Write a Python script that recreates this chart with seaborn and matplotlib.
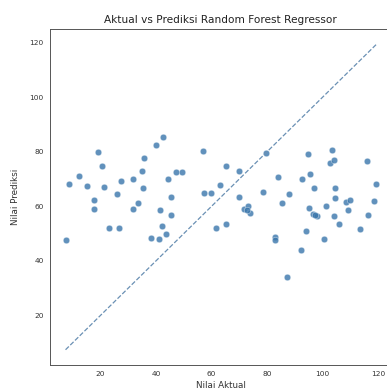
import matplotlib
matplotlib.use("Agg")
import matplotlib.pyplot as plt
import seaborn as sns
import numpy as np
import pandas as pd

sns.set_style("white")
plt.rcParams['font.family'] = ['DejaVu Sans']

nilai_aktual = [7.4, 8.7, 12.3, 15.1, 17.7, 17.5, 19.2, 20.6, 21.4, 23.2,
                26.8, 26.0, 27.3, 31.8, 31.8, 33.4, 35.0, 35.7, 35.5, 39.9,
                42.4, 44.5, 47.3, 49.5, 45.3, 41.3, 45.6, 42.1, 43.7, 38.2,
                41.2, 56.9, 57.4, 59.7, 61.5, 63.0, 65.2, 65.3, 69.8, 70.1,
                71.9, 73.3, 74.0, 72.8, 78.5, 79.5, 83.9, 83.1, 83.0, 85.5,
                87.9, 87.4, 92.4, 92.5, 94.9, 95.4, 94.1, 97.0, 95.3, 96.7,
                97.9, 97.3, 100.7, 101.2, 103.6, 102.8, 104.1, 104.5, 104.4, 104.1,
                106.1, 108.5, 109.8, 109.1, 113.5, 116.0, 116.5, 118.5, 119.5]
nilai_prediksi = [47.6, 68.3, 71.2, 67.5, 62.4, 59.2, 79.8, 74.9, 67.3, 52.1,
                  52.1, 64.4, 69.2, 70.0, 59.2, 61.1, 72.9, 77.8, 66.7, 82.5,
                  85.6, 69.9, 72.7, 72.5, 63.5, 58.5, 56.7, 52.7, 50.0, 48.4,
                  48.2, 80.3, 65.0, 65.0, 52.1, 67.7, 74.8, 53.5, 73.1, 63.4,
                  59.2, 60.1, 57.4, 58.6, 65.3, 79.5, 70.8, 48.8, 47.6, 61.3,
                  64.4, 34.1, 44.0, 70.0, 79.3, 71.9, 51.0, 66.9, 59.4, 57.1,
                  56.5, 56.8, 47.9, 60.1, 80.7, 76.0, 77.0, 66.6, 63.1, 56.3,
                  53.7, 61.5, 62.2, 58.6, 51.6, 76.6, 57.0, 61.9, 68.2]

df = pd.DataFrame({"aktual": nilai_aktual, "prediksi": nilai_prediksi})

fig = plt.figure(figsize=(3.87, 3.92), dpi=100)
ax = fig.add_axes([50 / 387, 1 - 365 / 392, (392 - 50) / 387, (365 - 29) / 392])

sns.scatterplot(data=df, x="aktual", y="prediksi", ax=ax, s=22,
                color="#3a76ab", alpha=0.8, edgecolor="white", linewidth=0.3)
lo, hi = min(nilai_aktual), max(nilai_aktual)
ax.plot([lo, hi], [lo, hi], "--", color="#6a90b4", linewidth=0.9)

ax.set_xticks([20, 40, 60, 80, 100, 120])
ax.set_yticks([20, 40, 60, 80, 100, 120])
ax.tick_params(labelsize=5.3, length=2.5, width=0.6, pad=2, colors="#333333")
for sp in ax.spines.values():
    sp.set_linewidth(0.7)
    sp.set_color("#555555")
ax.set_xlabel("Nilai Aktual", fontsize=6.3, labelpad=3, color="#333333")
ax.set_ylabel("Nilai Prediksi", fontsize=6.3, labelpad=7, color="#333333")
ax.set_title("Aktual vs Prediksi Random Forest Regressor", fontsize=7.6, pad=4,
             color="#222222", x=(220 - 50) / (392 - 50))

fig.savefig("out.png", dpi=100)
